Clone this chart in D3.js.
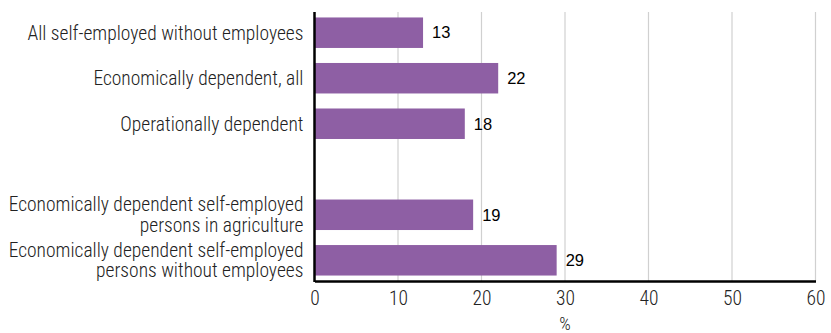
<!DOCTYPE html>
<html>
<head>
<meta charset="utf-8">
<script src="https://cdn.jsdelivr.net/npm/d3@7"></script>
<style>
  body { margin: 0; background: #fff; }
  svg text { font-family: "Roboto Condensed", "Liberation Sans Narrow", sans-serif; font-weight: 300; }
</style>
</head>
<body>
<div id="chart"></div>
<script>
// categories (empty string = spacer row between the two groups)
const categories = [
  ["All self-employed without employees"],
  ["Economically dependent, all"],
  ["Operationally dependent"],
  [""],
  ["Economically dependent self-employed", "persons in agriculture"],
  ["Economically dependent self-employed", "persons without employees"]
];
const values = [13, 22, 18, null, 19, 29];
const xTicks = [0, 10, 20, 30, 40, 50, 60];

const width = 831, height = 333;
const margin = { top: 12, right: 15, bottom: 52, left: 314.5 };

const svg = d3.select("#chart")
  .append("svg")
  .attr("width", width)
  .attr("height", height);

const x = d3.scaleLinear()
  .domain([0, 60])
  .range([margin.left, width - margin.right - 0.5]);

const y = d3.scaleBand()
  .domain(d3.range(categories.length))
  .range([margin.top, height - margin.bottom])
  .paddingInner(0.33)
  .paddingOuter(0.12);

// grid lines
svg.append("g")
  .selectAll("line")
  .data(xTicks.slice(1))
  .enter()
  .append("line")
  .attr("x1", d => x(d))
  .attr("x2", d => x(d))
  .attr("y1", margin.top)
  .attr("y2", height - margin.bottom)
  .attr("stroke", "#d0d0d0")
  .attr("stroke-width", 1.2);

// bars
const rows = categories.map((c, i) => ({ label: c, value: values[i], i: i }));
svg.append("g")
  .selectAll("rect")
  .data(rows.filter(d => d.value != null))
  .enter()
  .append("rect")
  .attr("x", x(0))
  .attr("y", d => y(d.i))
  .attr("width", d => x(d.value) - x(0))
  .attr("height", y.bandwidth())
  .attr("fill", "#8e5fa4");

// value labels
svg.append("g")
  .selectAll("text")
  .data(rows.filter(d => d.value != null))
  .enter()
  .append("text")
  .attr("x", d => x(d.value) + 9)
  .attr("y", d => y(d.i) + y.bandwidth() / 2)
  .attr("dy", "0.35em")
  .attr("font-size", 16.5)
  .attr("fill", "#000")
  .style("font-family", "'Liberation Sans', Arial, sans-serif")
  .style("font-weight", 400)
  .text(d => d.value);

// category labels
const lab = svg.append("g")
  .selectAll("text")
  .data(rows)
  .enter()
  .append("text")
  .attr("text-anchor", "end")
  .attr("font-size", 19.5)
  .attr("fill", "#222")
  .attr("x", margin.left - 11)
  .attr("y", d => y(d.i) + y.bandwidth() / 2);

lab.selectAll("tspan")
  .data(d => d.label.map((t, k) => ({ t: t, k: k, n: d.label.length })))
  .enter()
  .append("tspan")
  .attr("x", margin.left - 11)
  .attr("dy", d => d.k === 0 ? (0.35 - (d.n - 1) * 0.52) + "em" : "1.04em")
  .text(d => d.t);

// x axis
const xAxis = svg.append("g")
  .attr("transform", "translate(0," + (height - margin.bottom) + ")")
  .call(d3.axisBottom(x).tickValues(xTicks).tickSize(0).tickPadding(10));
xAxis.select(".domain").attr("stroke", "#000").attr("stroke-width", 2.5);
xAxis.selectAll("text")
  .attr("font-size", 19.5)
  .attr("fill", "#222")
  .style("font-family", "'Roboto Condensed', sans-serif")
  .style("font-weight", 300);

// y axis line
svg.append("line")
  .attr("x1", x(0))
  .attr("x2", x(0))
  .attr("y1", margin.top)
  .attr("y2", height - margin.bottom + 1)
  .attr("stroke", "#000")
  .attr("stroke-width", 2.5);

// axis title
svg.append("text")
  .attr("x", x(30))
  .attr("y", height - 3)
  .attr("text-anchor", "middle")
  .attr("font-size", 18)
  .attr("fill", "#222")
  .text("%");
</script>
</body>
</html>
